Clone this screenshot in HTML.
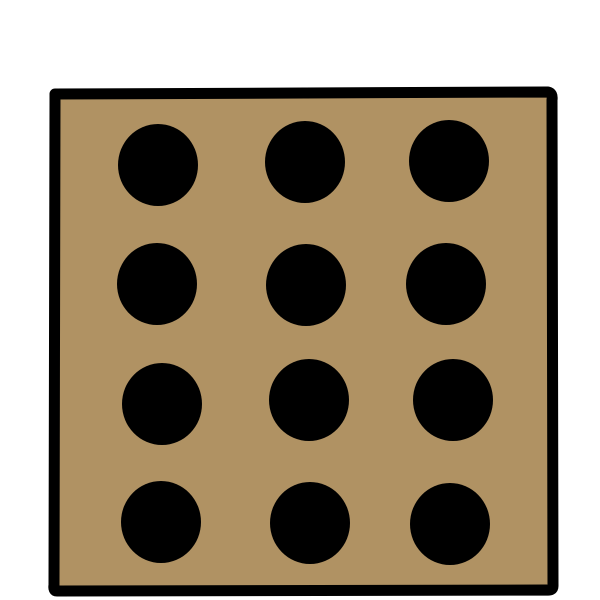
<!DOCTYPE html>
<html><head><meta charset="utf-8"><style>html,body{margin:0;padding:0;background:#fff}svg{display:block}</style></head>
<body>
<svg width="600" height="600" viewBox="0 0 600 600">
<path d="M55,94 L548,92 Q553,93 552,100 L553,586 Q553,591 546,590 L57,591 Q53,591 54,585 L55,100 Z" fill="#B09263" stroke="#000" stroke-width="11" stroke-linejoin="round"/>
<g id="dots" fill="#000"></g>
</svg>
<script>
const dotX = [158,305,449,157,306,446,162,309,453,161,310,450];
const dotY = [165,162,161,284,285,284,404,400,400,522,523,524];
const g = document.getElementById('dots');
for (let i = 0; i < dotX.length; i++) {
  const e = document.createElementNS('http://www.w3.org/2000/svg','ellipse');
  e.setAttribute('cx', dotX[i]); e.setAttribute('cy', dotY[i]);
  e.setAttribute('rx', 40); e.setAttribute('ry', 41);
  
  
  g.appendChild(e);
}
</script>
</body></html>
